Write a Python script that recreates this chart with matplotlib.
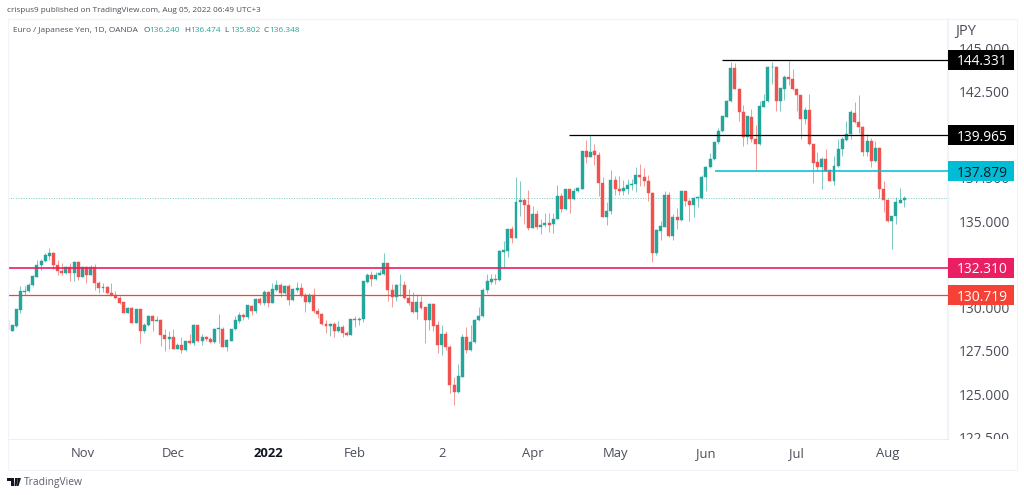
import numpy as np
import matplotlib
matplotlib.use('Agg')
import matplotlib.pyplot as plt
from matplotlib.patches import Rectangle, Polygon
from matplotlib.transforms import Bbox, IdentityTransform

#%% Data (EUR/JPY daily candles)

opens = [
    129.28, 128.66, 128.93, 129.86, 130.90, 130.93, 131.28, 131.78, 132.48, 132.71,
    132.98, 133.17, 132.48, 132.13, 131.97, 132.32, 132.01, 132.63, 131.78, 132.32,
    131.90, 132.36, 131.40, 131.13, 131.20, 130.86, 130.70, 130.55, 130.32, 129.70,
    129.97, 129.12, 129.90, 128.62, 129.01, 129.51, 129.24, 129.28, 128.39, 128.16,
    128.27, 127.62, 127.85, 127.54, 128.04, 127.93, 128.97, 128.08, 128.27, 128.16,
    128.00, 128.78, 128.78, 127.74, 128.08, 128.74, 129.24, 129.58, 129.43, 130.08,
    129.82, 130.51, 130.28, 130.89, 130.28, 131.01, 131.32, 130.82, 131.24, 130.43,
    131.01, 131.13, 130.70, 130.32, 130.70, 129.82, 129.62, 129.04, 128.93, 129.04,
    128.66, 128.89, 128.54, 128.43, 129.33, 129.28, 129.35, 131.47, 131.90, 131.66,
    131.90, 131.93, 132.55, 131.01, 130.62, 131.28, 131.28, 130.55, 130.32, 129.74,
    130.32, 130.01, 129.28, 130.20, 128.97, 127.81, 128.47, 127.73, 125.54, 125.11,
    126.00, 128.31, 127.54, 128.00, 129.28, 129.49, 131.00, 131.49, 131.65, 131.59,
    133.21, 133.29, 134.52, 134.02, 136.10, 136.22, 135.91, 134.60, 135.41, 134.64,
    134.75, 134.87, 134.83, 135.10, 136.45, 135.68, 136.83, 136.25, 136.72, 136.87,
    139.03, 138.72, 139.03, 138.84, 137.22, 135.25, 135.56, 137.37, 136.87, 136.72,
    136.87, 137.10, 137.14, 137.64, 137.56, 137.33, 136.64, 133.13, 134.44, 134.68,
    136.49, 134.13, 135.25, 135.06, 136.72, 136.14, 135.91, 136.33, 136.36, 137.56,
    138.10, 138.56, 139.56, 140.18, 141.03, 141.95, 143.84, 142.64, 141.30, 139.87,
    141.03, 139.72, 139.45, 141.60, 141.95, 143.88, 143.92, 141.95, 142.64, 143.30,
    143.22, 142.61, 142.26, 140.91, 141.41, 139.45, 138.41, 138.14, 138.56, 137.94,
    137.33, 138.17, 139.18, 139.68, 140.06, 141.26, 140.72, 140.45, 138.98, 139.64,
    138.48, 139.25, 136.83, 136.21, 134.98, 135.28, 136.06, 136.24]

closes = [
    128.70, 128.97, 129.90, 130.93, 130.97, 131.32, 131.82, 132.48, 132.71, 133.02,
    133.17, 132.48, 132.13, 131.97, 132.32, 132.01, 132.63, 131.78, 132.32, 131.90,
    132.36, 131.40, 131.13, 131.17, 130.82, 130.70, 130.55, 130.28, 129.70, 129.97,
    129.12, 129.90, 128.62, 129.01, 129.51, 129.24, 129.28, 128.39, 128.16, 128.27,
    127.62, 127.85, 127.54, 128.04, 127.93, 128.97, 128.08, 128.31, 128.16, 128.00,
    128.78, 128.82, 127.74, 128.12, 128.74, 129.28, 129.59, 129.43, 130.12, 129.82,
    130.51, 130.28, 130.89, 130.28, 131.05, 131.32, 130.82, 131.24, 130.43, 131.05,
    131.13, 130.70, 130.32, 130.70, 129.78, 129.62, 129.04, 128.93, 129.04, 128.66,
    128.85, 128.50, 128.43, 129.31, 129.28, 129.35, 131.51, 131.90, 131.66, 131.90,
    132.01, 132.55, 131.01, 130.62, 131.28, 131.32, 130.55, 130.24, 129.74, 130.32,
    129.97, 129.28, 130.20, 128.93, 127.81, 128.47, 127.73, 125.54, 125.11, 126.04,
    128.31, 127.54, 128.00, 129.28, 129.51, 131.03, 131.53, 131.65, 131.61, 133.25,
    133.31, 134.52, 134.02, 136.10, 136.22, 135.91, 134.60, 135.41, 134.64, 134.75,
    134.87, 134.79, 135.14, 136.45, 135.71, 136.83, 136.25, 136.76, 136.91, 139.03,
    138.72, 138.99, 138.80, 137.22, 135.25, 135.56, 137.37, 136.87, 136.72, 136.91,
    137.10, 137.14, 137.64, 137.56, 137.29, 136.60, 133.13, 134.48, 134.71, 136.49,
    134.13, 135.25, 135.06, 136.72, 136.14, 135.91, 136.33, 136.41, 137.56, 138.10,
    138.56, 139.56, 140.18, 141.06, 141.95, 143.84, 142.64, 141.30, 139.87, 141.06,
    139.72, 139.48, 141.64, 141.95, 143.92, 143.92, 141.95, 142.68, 143.30, 143.22,
    142.61, 142.26, 140.91, 141.41, 139.45, 138.37, 138.14, 138.56, 137.91, 137.33,
    138.17, 139.18, 139.72, 140.06, 141.30, 140.72, 140.41, 138.98, 139.64, 138.48,
    139.25, 136.83, 136.21, 134.98, 135.32, 136.09, 136.21, 136.35]

highs = [
    129.28, 129.01, 129.90, 131.24, 131.24, 131.44, 131.86, 132.75, 132.78, 133.13,
    133.44, 133.21, 132.75, 132.59, 132.40, 132.55, 132.67, 132.67, 132.40, 132.40,
    132.44, 132.51, 131.51, 131.40, 131.24, 131.40, 130.97, 130.66, 130.32, 130.01,
    130.05, 129.93, 129.93, 129.08, 129.55, 129.59, 129.51, 129.32, 128.78, 128.62,
    128.78, 127.93, 128.27, 128.08, 128.47, 129.05, 129.01, 128.47, 128.35, 128.31,
    128.82, 129.62, 128.85, 128.16, 128.78, 129.51, 129.74, 129.66, 130.16, 130.16,
    130.55, 130.59, 131.01, 130.97, 131.43, 131.59, 131.43, 131.32, 131.36, 131.13,
    131.47, 131.39, 130.82, 130.82, 131.13, 129.97, 129.66, 129.28, 129.12, 129.16,
    129.24, 128.97, 128.66, 129.35, 129.51, 129.43, 131.55, 132.01, 132.09, 132.05,
    132.17, 133.13, 132.59, 131.36, 131.36, 131.93, 131.51, 131.09, 130.89, 130.78,
    130.66, 130.05, 130.28, 130.24, 129.20, 129.01, 128.62, 127.81, 125.96, 126.73,
    128.47, 128.85, 129.01, 129.31, 130.01, 131.11, 131.92, 131.92, 131.92, 133.33,
    133.87, 134.56, 134.71, 137.53, 137.29, 136.33, 136.79, 135.87, 135.64, 135.10,
    135.45, 135.45, 135.45, 137.10, 136.64, 136.87, 136.87, 136.91, 136.95, 139.07,
    139.68, 139.95, 139.45, 138.99, 137.53, 136.10, 137.95, 137.60, 137.60, 137.37,
    137.41, 137.45, 138.14, 138.30, 138.07, 137.64, 136.68, 134.52, 134.98, 136.76,
    136.68, 135.41, 135.75, 136.76, 136.76, 136.25, 136.37, 136.45, 137.64, 138.21,
    138.95, 139.56, 140.37, 141.10, 141.99, 144.19, 144.11, 142.72, 141.72, 141.06,
    141.45, 140.56, 141.95, 142.34, 143.96, 144.22, 143.96, 142.72, 143.42, 144.26,
    143.80, 142.64, 142.30, 141.60, 142.34, 139.48, 139.02, 138.68, 139.18, 137.98,
    138.75, 139.75, 139.83, 140.76, 141.41, 141.87, 142.26, 140.49, 140.02, 139.79,
    139.64, 139.29, 137.29, 136.25, 135.32, 136.40, 136.90, 136.47]

lows = [
    128.62, 128.62, 128.89, 129.66, 130.70, 130.90, 131.24, 131.74, 132.17, 132.63,
    132.75, 132.24, 131.90, 131.86, 131.94, 131.55, 131.55, 131.59, 131.74, 131.44,
    131.86, 131.01, 130.82, 130.90, 130.78, 130.66, 130.47, 130.20, 129.66, 129.66,
    129.08, 129.08, 127.97, 128.54, 128.93, 128.66, 129.24, 127.77, 127.50, 127.62,
    127.58, 127.58, 127.39, 127.50, 127.89, 127.85, 128.00, 127.81, 128.04, 127.97,
    127.97, 127.97, 127.70, 127.47, 128.04, 128.70, 129.08, 129.28, 129.35, 129.58,
    129.66, 130.12, 130.16, 130.01, 130.24, 130.97, 130.62, 130.78, 130.12, 130.39,
    130.89, 130.62, 129.74, 130.28, 129.70, 129.39, 129.01, 128.54, 128.35, 128.27,
    128.58, 128.27, 128.35, 128.39, 128.85, 129.01, 129.16, 131.43, 131.24, 131.59,
    131.86, 131.86, 130.35, 130.05, 130.39, 130.66, 130.47, 130.12, 129.70, 129.35,
    129.93, 127.93, 128.70, 128.66, 127.35, 127.27, 127.54, 125.08, 124.38, 125.08,
    125.96, 127.35, 127.50, 127.97, 129.24, 129.45, 130.82, 131.38, 131.34, 131.55,
    132.29, 132.94, 133.71, 134.02, 135.29, 134.83, 134.48, 134.60, 134.56, 134.25,
    134.68, 134.37, 134.29, 135.10, 135.52, 135.64, 135.48, 136.22, 136.68, 136.83,
    138.37, 138.68, 138.22, 136.45, 135.25, 134.75, 135.41, 136.49, 136.49, 136.52,
    136.56, 136.79, 136.68, 137.02, 137.02, 136.18, 132.63, 133.06, 133.90, 134.64,
    134.06, 133.90, 134.56, 135.02, 135.87, 134.98, 135.21, 135.79, 136.25, 136.75,
    138.06, 138.52, 139.45, 140.14, 140.99, 141.91, 142.61, 140.76, 139.33, 139.45,
    139.56, 137.87, 139.41, 141.57, 141.91, 142.91, 141.37, 141.37, 141.99, 142.84,
    142.57, 141.37, 139.76, 140.60, 139.41, 137.21, 137.94, 136.86, 137.87, 137.29,
    137.10, 138.14, 138.75, 139.64, 139.72, 140.68, 140.10, 138.75, 138.75, 138.14,
    138.44, 136.33, 135.55, 134.94, 133.40, 134.82, 136.02, 135.80]

month_labels = ['Nov', 'Dec', '2022', 'Feb', '2', 'Apr', 'May', 'Jun', 'Jul', 'Aug']
month_idx = [18, 40, 63, 84, 105, 127, 147, 169, 191, 213]

price_ticks = [122.5, 125, 127.5, 130, 132.5, 135, 137.5, 140, 142.5, 145]

level_prices = [144.331, 139.965, 137.879, 132.310, 130.719]
level_starts = [172.9, 135.8, 171.2, 0, 0]
level_colors = ['#000000', '#000000', '#00bcd4', '#e91e63', '#f44336']
level_widths = [0.9, 0.9, 1.1, 1.2, 0.9]
level_text = ['#ffffff', '#ffffff', '#131722', '#ffffff', '#ffffff']

#%% Setup

W, H = 1024, 495
UP = '#26a69a'
DOWN = '#ef5350'
TEXT = '#4a4e59'
BORDER = '#f0f3fa'
FONT = 'Open Sans'

plt.rcParams['font.family'] = FONT
fig = plt.figure(figsize=(W / 100, H / 100), dpi=100, facecolor='white')
ax = fig.add_axes([7.5 / W, (H - 439) / H, (948 - 7.5) / W, (439 - 19) / H])
ax.set_xlim(-0.12, 227.6)
ax.set_ylim(122.40, 146.68)

for s in ax.spines.values():
    s.set_visible(False)
ax.spines['right'].set_visible(True)
ax.spines['right'].set_color(BORDER)
ax.spines['right'].set_linewidth(1.5)
ax.spines['bottom'].set_visible(True)
ax.spines['bottom'].set_color('#e6e8ee')
ax.spines['bottom'].set_linewidth(0.6)
ax.spines['bottom'].set_linestyle((0, (1, 1.5)))

#%% Candles

idx = np.arange(len(opens))
o = np.array(opens)
c = np.array(closes)
colors = [UP if cl >= op else DOWN for op, cl in zip(o, c)]

ax.vlines(idx, lows, highs, colors=colors, linewidth=0.6, alpha=0.7, zorder=3)
ax.bar(idx, np.abs(c - o), bottom=np.minimum(o, c), width=0.72, color=colors,
       edgecolor=colors, linewidth=0.3, zorder=3)

#%% Horizontal levels

ax.axhline(closes[-1], color=UP, linestyle=(0, (1, 1.6)), linewidth=0.7, alpha=0.6, zorder=2)

for price, start, col, lw in zip(level_prices, level_starts, level_colors, level_widths):
    ax.hlines(price, start, 227.6, colors=col, linewidth=lw, zorder=4)

#%% Axes ticks

ax.yaxis.tick_right()
ax.set_yticks(price_ticks)
ax.set_yticklabels(['%.3f' % p for p in price_ticks])
ax.tick_params(axis='y', length=0, pad=7.5, labelsize=9.9, labelcolor=TEXT)
ax.set_xticks(month_idx)
ax.set_xticklabels(month_labels)
ax.tick_params(axis='x', length=0, pad=6, labelsize=9.4, labelcolor=TEXT)
for lbl in ax.get_xticklabels():
    if lbl.get_text() == '2022':
        lbl.set_fontweight('bold')
        lbl.set_color('#131722')

# price labels get cut at the edge of the scale
clip = Bbox([[948, H - 439], [1016, H - 19]])
for lbl in ax.get_yticklabels():
    lbl.set_clip_on(True)
    lbl.set_clip_box(clip)

#%% Level tags on the price scale

for price, col, tcol in zip(level_prices, level_colors, level_text):
    y0 = ax.transData.transform((0, price))[1]
    ax.add_patch(Rectangle((948, y0 - 10), 65.5, 20, facecolor=col, edgecolor='none',
                           transform=IdentityTransform(), clip_on=False, zorder=8))
    ax.text(982, y0, '%.3f' % price, color=tcol, fontsize=9.9, ha='center',
            va='center_baseline', transform=IdentityTransform(), clip_on=False, zorder=9)

#%% Frame and header texts


def px_text(x, y, s, **kw):
    fig.text(x / W, 1 - y / H, s, va='center', **kw)


fig.add_artist(Rectangle((7.5, H - 470), 1009, 451, facecolor='none', edgecolor=BORDER,
                         linewidth=0.8, transform=IdentityTransform()))

px_text(7, 11, 'crispus9 published on TradingView.com, Aug 05, 2022 06:49 UTC+3',
        fontsize=5.85, color=TEXT)
px_text(13, 30, 'Euro / Japanese Yen, 1D, OANDA', fontsize=5.95, color=TEXT)
header_x = [143, 184, 224, 263]
header_letters = ['O', 'H', 'L', 'C']
header_vals = ['136.240', '136.474', '135.802', '136.348']
for hx, letter, val in zip(header_x, header_letters, header_vals):
    px_text(hx, 30, letter, fontsize=5.95, color=TEXT)
    px_text(hx + 6, 30, val, fontsize=5.95, color=UP)

px_text(955, 31, 'JPY', fontsize=10.5, color=TEXT)
px_text(24, 482, 'TradingView', fontsize=7.4, color='#5d606b')

# small logo
logo_parts = [
    [(7, 478), (14, 478), (14, 486), (11, 486), (11, 481), (7, 481)],
    [(15, 478), (18, 478), (16.5, 486), (14.5, 486)],
    [(18, 478), (21, 478), (18.5, 486), (16.8, 486)],
]
for part in logo_parts:
    pts = [(x, H - y) for x, y in part]
    fig.add_artist(Polygon(pts, closed=True, facecolor='#131722', edgecolor='none',
                           transform=IdentityTransform()))

fig.savefig('out.png', dpi=100, facecolor='white')
